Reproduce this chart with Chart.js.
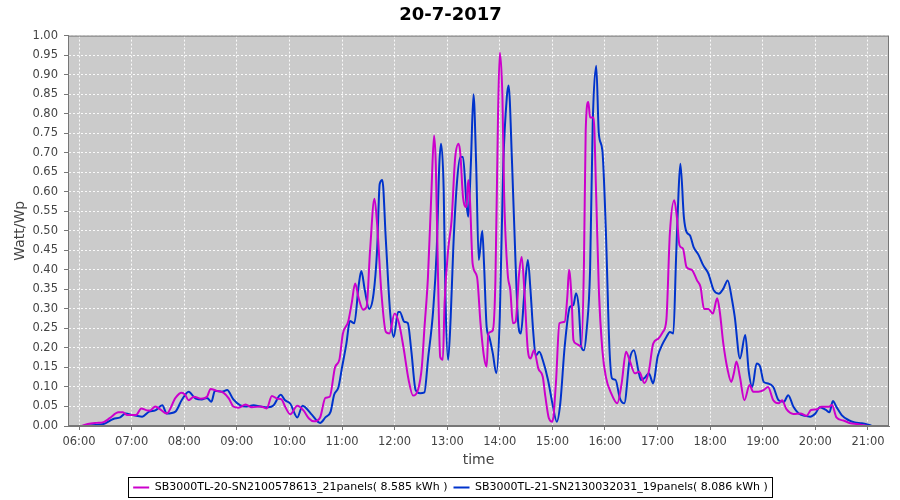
<!DOCTYPE html>
<html>
<head>
<meta charset="utf-8">
<script src="https://cdn.jsdelivr.net/npm/chart.js@4/dist/chart.umd.min.js"></script>
<style>
  body { margin: 0; background: #fff; }
</style>
</head>
<body>
<canvas id="chart" width="900" height="500"></canvas>
<script>
// chart title and series labels
const chartTitle = '20-7-2017';
const seriesNames = [
  'SB3000TL-20-SN2100578613_21panels( 8.585 kWh )',
  'SB3000TL-21-SN2130032031_19panels( 8.086 kWh )'
];
const hourTicks = [6, 7, 8, 9, 10, 11, 12, 13, 14, 15, 16, 17, 18, 19, 20, 21];
const yTicks = [0, 0.05, 0.1, 0.15, 0.2, 0.25, 0.3, 0.35, 0.4, 0.45, 0.5, 0.55, 0.6, 0.65, 0.7, 0.75, 0.8, 0.85, 0.9, 0.95, 1];

// SB3000TL-20 (magenta), [time, Watt/Wp]
const sb20 = [
  ['06:03', 0.000], ['06:10', 0.005], ['06:20', 0.008], ['06:28', 0.010], ['06:35', 0.020],
  ['06:45', 0.035], ['06:50', 0.035], ['06:55', 0.028], ['07:05', 0.028], ['07:11', 0.045],
  ['07:18', 0.040], ['07:21', 0.040], ['07:27', 0.050], ['07:33', 0.042], ['07:40', 0.032],
  ['07:50', 0.072], ['07:57', 0.085], ['08:01', 0.080], ['08:05', 0.066], ['08:11', 0.075],
  ['08:19', 0.070], ['08:26', 0.075], ['08:30', 0.095], ['08:37', 0.090], ['08:45', 0.085],
  ['08:51', 0.070], ['08:56', 0.050], ['09:02', 0.047], ['09:10', 0.055], ['09:17', 0.048],
  ['09:27', 0.050], ['09:34', 0.045], ['09:40', 0.077], ['09:46', 0.070], ['09:51', 0.068],
  ['09:55', 0.050], ['10:01', 0.030], ['10:09', 0.052], ['10:16', 0.040], ['10:22', 0.020],
  ['10:28', 0.012], ['10:35', 0.022], ['10:41', 0.072], ['10:46', 0.075], ['10:52', 0.150],
  ['10:57', 0.170], ['11:01', 0.237], ['11:07', 0.267], ['11:11', 0.314], ['11:15', 0.365],
  ['11:19', 0.327], ['11:24', 0.298], ['11:28', 0.305], ['11:32', 0.450], ['11:37', 0.582],
  ['11:40', 0.518], ['11:45', 0.339], ['11:50', 0.241], ['11:54', 0.237], ['12:00', 0.288],
  ['12:05', 0.263], ['12:10', 0.203], ['12:16', 0.118], ['12:21', 0.078], ['12:27', 0.095],
  ['12:31', 0.150], ['12:34', 0.250], ['12:38', 0.380], ['12:42', 0.600], ['12:45', 0.744],
  ['12:47', 0.670], ['12:50', 0.330], ['12:52', 0.177], ['12:55', 0.170], ['12:57', 0.314],
  ['13:01', 0.450], ['13:05', 0.527], ['13:09', 0.685], ['13:13', 0.723], ['13:15', 0.697],
  ['13:18', 0.587], ['13:22', 0.561], ['13:24', 0.630], ['13:26', 0.578], ['13:29', 0.416],
  ['13:34', 0.382], ['13:38', 0.263], ['13:42', 0.177], ['13:45', 0.152], ['13:47', 0.237],
  ['13:52', 0.245], ['13:55', 0.373], ['13:58', 0.800], ['14:00', 0.957], ['14:03', 0.842],
  ['14:05', 0.587], ['14:09', 0.390], ['14:12', 0.348], ['14:15', 0.263], ['14:18', 0.267],
  ['14:22', 0.390], ['14:25', 0.433], ['14:28', 0.348], ['14:32', 0.194], ['14:35', 0.173],
  ['14:39', 0.194], ['14:44', 0.147], ['14:49', 0.126], ['14:52', 0.075], ['14:56', 0.020],
  ['15:00', 0.011], ['15:04', 0.109], ['15:08', 0.263], ['15:14', 0.267], ['15:17', 0.330],
  ['15:19', 0.400], ['15:22', 0.322], ['15:24', 0.220], ['15:27', 0.211], ['15:30', 0.207],
  ['15:33', 0.203], ['15:36', 0.416], ['15:38', 0.757], ['15:41', 0.830], ['15:43', 0.790],
  ['15:47', 0.790], ['15:50', 0.587], ['15:53', 0.348], ['15:57', 0.194], ['16:01', 0.126],
  ['16:07', 0.084], ['16:14', 0.058], ['16:19', 0.109], ['16:24', 0.190], ['16:28', 0.169],
  ['16:34', 0.135], ['16:39', 0.139], ['16:45', 0.110], ['16:50', 0.140], ['16:55', 0.211],
  ['17:01', 0.224], ['17:06', 0.241], ['17:10', 0.271], ['17:14', 0.493], ['17:19', 0.578],
  ['17:22', 0.535], ['17:25', 0.463], ['17:29', 0.454], ['17:33', 0.407], ['17:39', 0.400],
  ['17:45', 0.373], ['17:49', 0.356], ['17:53', 0.300], ['17:58', 0.300], ['18:03', 0.288],
  ['18:08', 0.327], ['18:11', 0.292], ['18:15', 0.211], ['18:20', 0.143], ['18:24', 0.113],
  ['18:27', 0.135], ['18:30', 0.165], ['18:34', 0.125], ['18:39', 0.066], ['18:45', 0.105],
  ['18:49', 0.088], ['18:55', 0.088], ['19:01', 0.092], ['19:06', 0.100], ['19:12', 0.066],
  ['19:18', 0.058], ['19:22', 0.066], ['19:27', 0.043], ['19:35', 0.031], ['19:43', 0.032],
  ['19:50', 0.026], ['19:55', 0.041], ['20:02', 0.043], ['20:07', 0.049], ['20:15', 0.049],
  ['20:19', 0.054], ['20:24', 0.022], ['20:32', 0.014], ['20:40', 0.007], ['20:47', 0.005],
  ['20:57', 0.001], ['21:02', 0.000]
];

// SB3000TL-21 (blue), [time, Watt/Wp]
const sb21 = [
  ['06:05', 0.000], ['06:15', 0.002], ['06:28', 0.005], ['06:39', 0.018], ['06:47', 0.022],
  ['06:53', 0.032], ['07:01', 0.028], ['07:12', 0.024], ['07:20', 0.037], ['07:27', 0.040],
  ['07:35', 0.053], ['07:40', 0.032], ['07:50', 0.037], ['07:57', 0.066], ['08:05', 0.088],
  ['08:13', 0.070], ['08:20', 0.068], ['08:26', 0.072], ['08:31', 0.062], ['08:35', 0.090],
  ['08:43', 0.088], ['08:49', 0.092], ['08:56', 0.068], ['09:04', 0.053], ['09:11', 0.050],
  ['09:19', 0.053], ['09:27', 0.050], ['09:36', 0.048], ['09:42', 0.053], ['09:50', 0.080],
  ['09:55', 0.066], ['10:01', 0.057], ['10:09', 0.022], ['10:15', 0.052], ['10:18', 0.048],
  ['10:26', 0.028], ['10:35', 0.008], ['10:41', 0.022], ['10:47', 0.037], ['10:51', 0.080],
  ['10:56', 0.100], ['11:00', 0.150], ['11:05', 0.211], ['11:09', 0.269], ['11:14', 0.263],
  ['11:19', 0.360], ['11:22', 0.397], ['11:26', 0.348], ['11:31', 0.300], ['11:36', 0.339],
  ['11:40', 0.450], ['11:43', 0.620], ['11:46', 0.630], ['11:50', 0.476], ['11:55', 0.288],
  ['11:59', 0.228], ['12:04', 0.292], ['12:06', 0.292], ['12:11', 0.267], ['12:15', 0.264],
  ['12:19', 0.194], ['12:24', 0.092], ['12:29', 0.084], ['12:34', 0.086], ['12:38', 0.169],
  ['12:44', 0.297], ['12:48', 0.450], ['12:51', 0.670], ['12:53', 0.723], ['12:56', 0.604],
  ['12:58', 0.330], ['13:01', 0.169], ['13:04', 0.280], ['13:07', 0.459], ['13:11', 0.620],
  ['13:15', 0.689], ['13:18', 0.689], ['13:22', 0.570], ['13:24', 0.536], ['13:27', 0.672],
  ['13:30', 0.850], ['13:33', 0.672], ['13:36', 0.425], ['13:40', 0.500], ['13:42', 0.416],
  ['13:45', 0.254], ['13:48', 0.228], ['13:52', 0.186], ['13:56', 0.135], ['14:00', 0.280],
  ['14:04', 0.672], ['14:08', 0.842], ['14:10', 0.872], ['14:14', 0.672], ['14:18', 0.416],
  ['14:21', 0.263], ['14:24', 0.237], ['14:28', 0.340], ['14:32', 0.425], ['14:35', 0.348],
  ['14:38', 0.245], ['14:41', 0.180], ['14:45', 0.190], ['14:49', 0.169], ['14:55', 0.118],
  ['15:00', 0.058], ['15:05', 0.011], ['15:09', 0.058], ['15:14', 0.203], ['15:20', 0.305],
  ['15:24', 0.310], ['15:27', 0.340], ['15:30', 0.305], ['15:33', 0.203], ['15:36', 0.194],
  ['15:39', 0.245], ['15:43', 0.400], ['15:46', 0.774], ['15:50', 0.923], ['15:53', 0.748],
  ['15:57', 0.706], ['16:01', 0.500], ['16:05', 0.203], ['16:08', 0.122], ['16:12', 0.118],
  ['16:17', 0.071], ['16:22', 0.058], ['16:28', 0.169], ['16:33', 0.194], ['16:38', 0.143],
  ['16:41', 0.118], ['16:46', 0.125], ['16:50', 0.135], ['16:55', 0.109], ['17:00', 0.177],
  ['17:05', 0.207], ['17:10', 0.228], ['17:14', 0.241], ['17:18', 0.237], ['17:21', 0.425],
  ['17:24', 0.604], ['17:26', 0.672], ['17:30', 0.535], ['17:33', 0.497], ['17:37', 0.488],
  ['17:41', 0.459], ['17:47', 0.437], ['17:52', 0.412], ['17:58', 0.390], ['18:04', 0.348],
  ['18:10', 0.339], ['18:15', 0.352], ['18:20', 0.373], ['18:25', 0.322], ['18:28', 0.280],
  ['18:34', 0.173], ['18:40', 0.233], ['18:44', 0.140], ['18:48', 0.100], ['18:53', 0.160],
  ['18:57', 0.152], ['19:01', 0.113], ['19:06', 0.109], ['19:12', 0.100], ['19:18', 0.066],
  ['19:24', 0.062], ['19:29', 0.079], ['19:35', 0.049], ['19:41', 0.032], ['19:48', 0.026],
  ['19:54', 0.024], ['20:00', 0.032], ['20:05', 0.048], ['20:12', 0.041], ['20:16', 0.035],
  ['20:20', 0.064], ['20:24', 0.049], ['20:30', 0.028], ['20:38', 0.015], ['20:45', 0.009],
  ['20:53', 0.007], ['21:04', 0.001]
];

function toHours(t) {
  const p = t.split(':');
  return +p[0] + p[1] / 60;
}
function toPoints(rows) {
  return rows.map(r => ({ x: toHours(r[0]), y: r[1] }));
}
function hourLabel(h) {
  return (h < 10 ? '0' : '') + h + ':00';
}

const FONT = 'DejaVu Sans, sans-serif';

// grey plot background + outline, like the JFreeChart original
const plotBackground = {
  id: 'plotBackground',
  beforeDraw(chart) {
    const { ctx, chartArea: a } = chart;
    ctx.save();
    ctx.fillStyle = '#cbcbcb';
    ctx.fillRect(a.left, a.top, a.right - a.left, a.bottom - a.top);
    ctx.restore();
  },
  afterDraw(chart) {
    const { ctx, chartArea: a } = chart;
    ctx.save();
    ctx.strokeStyle = '#777';
    ctx.lineWidth = 1;
    ctx.strokeRect(a.left + 0.5, a.top + 0.5, a.right - a.left - 1, a.bottom - a.top - 1);
    // box round the legend
    const boxes = chart.legend.legendHitBoxes;
    if (boxes && boxes.length) {
      const l = Math.min(...boxes.map(b => b.left));
      const r = Math.max(...boxes.map(b => b.left + b.width));
      const t = Math.min(...boxes.map(b => b.top));
      const b2 = Math.max(...boxes.map(b => b.top + b.height));
      ctx.strokeStyle = '#000';
      ctx.strokeRect(Math.round(l) - 4.5, Math.round(t) - 4.5, Math.round(r - l) + 9, Math.round(b2 - t) + 9);
    }
    ctx.restore();
  }
};

const gridOpts = {
  color: 'rgba(255,255,255,0.9)',
  tickColor: '#777',
  tickBorderDash: [],
  tickLength: 4
};

new Chart(document.getElementById('chart'), {
  type: 'line',
  data: {
    datasets: [{
      label: seriesNames[0],
      data: toPoints(sb20),
      borderColor: '#cc00cc',
      backgroundColor: '#cc00cc',
      borderWidth: 2,
      pointRadius: 0,
      cubicInterpolationMode: 'monotone',
      fill: false
    }, {
      label: seriesNames[1],
      data: toPoints(sb21),
      borderColor: '#0033cc',
      backgroundColor: '#0033cc',
      borderWidth: 2,
      pointRadius: 0,
      cubicInterpolationMode: 'monotone',
      fill: false
    }]
  },
  options: {
    responsive: false,
    animation: false,
    layout: { padding: { left: 12, right: 11, top: 0, bottom: -3 } },
    plugins: {
      title: {
        display: true,
        text: chartTitle,
        color: '#000',
        font: { family: FONT, size: 18, weight: 'bold' },
        padding: { top: 5, bottom: 9 }
      },
      legend: {
        position: 'bottom',
        labels: {
          color: '#000',
          font: { family: FONT, size: 11 },
          usePointStyle: true,
          pointStyle: 'line',
          pointStyleWidth: 16,
          boxHeight: 10,
          padding: 6
        }
      },
      tooltip: { enabled: false }
    },
    scales: {
      x: {
        type: 'linear',
        min: 5.79,
        max: 21.4,
        afterBuildTicks: s => { s.ticks = hourTicks.map(v => ({ value: v })); },
        afterFit: s => { s.height = 50; },
        ticks: {
          color: '#444',
          font: { family: FONT, size: 11.5 },
          padding: 5,
          callback: v => hourLabel(v)
        },
        grid: gridOpts,
        border: { color: '#777', width: 1, dash: [2, 2] },
        title: {
          display: true,
          text: 'time',
          color: '#444',
          font: { family: FONT, size: 14 },
          padding: { top: 2, bottom: 7 }
        }
      },
      y: {
        min: 0,
        max: 1,
        afterBuildTicks: s => { s.ticks = yTicks.map(v => ({ value: v })); },
        afterFit: s => { s.width = 56; },
        ticks: {
          color: '#444',
          font: { family: FONT, size: 11.5 },
          padding: 6,
          callback: v => v.toFixed(2)
        },
        grid: gridOpts,
        border: { color: '#777', width: 1, dash: [2, 2] },
        title: {
          display: true,
          text: 'Watt/Wp',
          color: '#444',
          font: { family: FONT, size: 14 },
          padding: { top: 0, bottom: 2 }
        }
      }
    }
  },
  plugins: [plotBackground]
});
</script>
</body>
</html>
